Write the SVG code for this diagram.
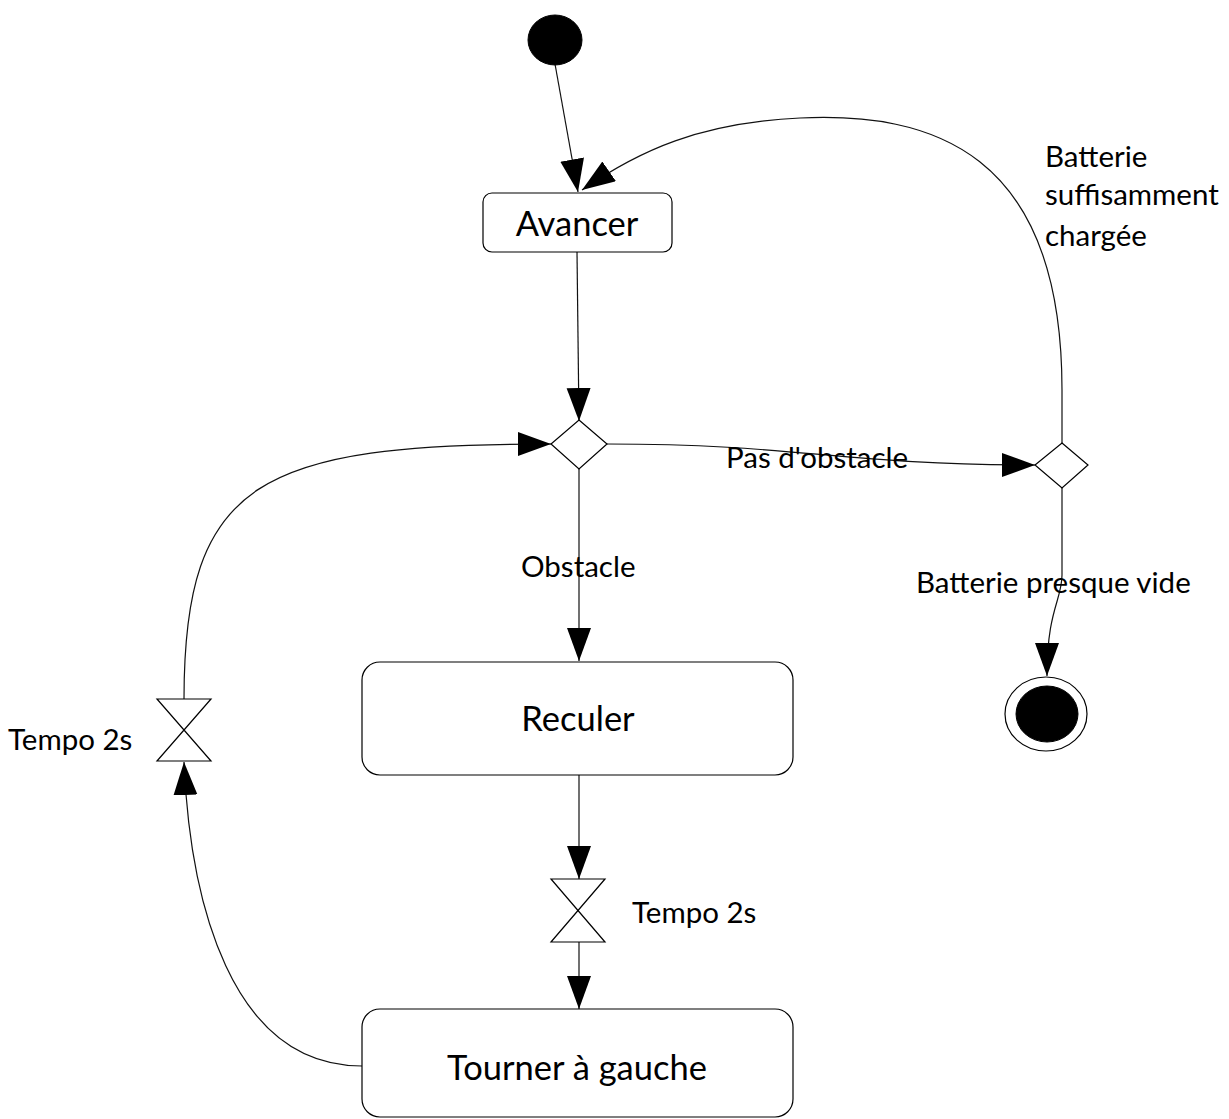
<svg xmlns="http://www.w3.org/2000/svg" width="1229" height="1119" viewBox="0 0 1229 1119">
  <style>
    .box { fill: #fff; stroke: #000; stroke-width: 1.2; }
    .shape { fill: #fff; stroke: #000; stroke-width: 1.2; }
    .solid { fill: #000; stroke: #000; stroke-width: 1; }
    .edge { fill: none; stroke: #111; stroke-width: 1.2; marker-end: url(#arrow); }
    text { font-family: Lato, "Open Sans", "Liberation Sans", sans-serif; fill: #000; }
    .title { font-size: 34.5px; text-anchor: middle; }
    .label { font-size: 29.5px; }
  </style>
  <defs>
    <marker id="arrow" markerUnits="userSpaceOnUse" markerWidth="34" markerHeight="26" refX="33" refY="12" orient="auto">
      <path d="M0,0 L33,12 L0,24 Z" fill="#000"/>
    </marker>
  </defs>

  <rect width="1229" height="1119" fill="#fff"/>

  <!-- connectors -->
  <g id="connectors">
    <path class="edge" d="M555,64 L578,192"/>
    <path class="edge" d="M1062,443 L1062,390 C1062,150 930,112 800,118 C 700,123 640,150 582,190"/>
    <path class="edge" d="M577,252 L579,421"/>
    <path class="edge" d="M607,444 C 800,444 840,465 1035,465"/>
    <path class="edge" d="M1062,488 L1062,575 C1062,600 1047,610 1047,676"/>
    <path class="edge" d="M579,469 L579,661"/>
    <path class="edge" d="M579,775 L579,879"/>
    <path class="edge" d="M579,942 L579,1009"/>
    <path class="edge" d="M362,1066 C 230,1066 190,900 184,762"/>
    <path class="edge" d="M184,699 C 184,480 260,444 551,444"/>
  </g>

  <!-- connector labels -->
  <g id="labels">
    <text class="label" x="726" y="468">Pas d'obstacle</text>
    <text class="label" x="521" y="577">Obstacle</text>
    <text class="label" x="916" y="593">Batterie presque vide</text>
    <text class="label" x="1045" y="167">Batterie</text>
    <text class="label" x="1045" y="205">suffisamment</text>
    <text class="label" x="1045" y="246">chargée</text>
    <text class="label" x="632" y="923">Tempo 2s</text>
    <text class="label" x="8" y="750">Tempo 2s</text>
  </g>

  <g id="start">
    <ellipse class="solid" cx="555" cy="40" rx="27" ry="25"/>
  </g>

  <g id="avancer">
    <rect class="box" x="483" y="193" width="189" height="59" rx="9"/>
    <text class="title" x="577" y="236">Avancer</text>
  </g>

  <g id="decision-obstacle">
    <path class="shape" d="M579,420 L607,444 L579,469 L551,444 Z"/>
  </g>

  <g id="decision-batterie">
    <path class="shape" d="M1062,443 L1088,465 L1062,488 L1035,465 Z"/>
  </g>

  <g id="end">
    <ellipse class="shape" cx="1046" cy="714" rx="41" ry="37"/>
    <ellipse class="solid" cx="1047" cy="714" rx="31" ry="28"/>
  </g>

  <g id="reculer">
    <rect class="box" x="362" y="662" width="431" height="113" rx="18"/>
    <text class="title" x="578" y="731">Reculer</text>
  </g>

  <g id="tempo-reculer">
    <path class="shape" d="M551,879 L605,879 L551,942 L605,942 Z"/>
  </g>

  <g id="tourner">
    <rect class="box" x="362" y="1009" width="431" height="108" rx="18"/>
    <text class="title" x="577" y="1080">Tourner à gauche</text>
  </g>

  <g id="tempo-tourner">
    <path class="shape" d="M157,699 L211,699 L157,761 L211,761 Z"/>
  </g>
</svg>
